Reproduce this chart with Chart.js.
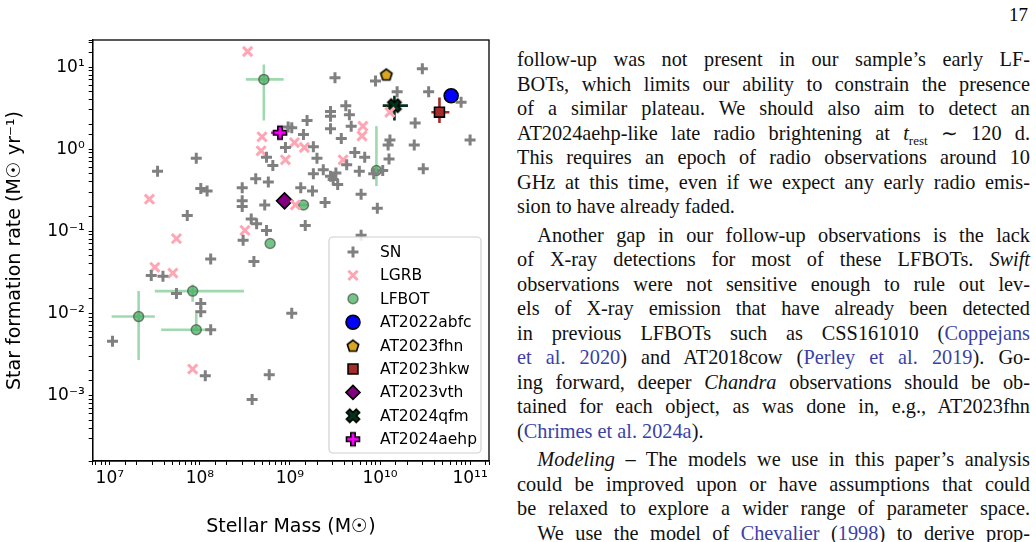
<!DOCTYPE html>
<html>
<head>
<meta charset="utf-8">
<script src="https://cdn.jsdelivr.net/npm/chart.js@4/dist/chart.umd.min.js"></script>
<style>
  body { margin: 0; background: #fff; width: 1036px; height: 542px; overflow: hidden; position: relative; }
  #wrap { position: absolute; left: 0; top: 0; width: 505px; height: 542px; }
  #page { position: absolute; left: 517px; top: 47px; width: 513px; font-family: "Liberation Serif", serif; font-size: 20.3px; color: #111; }
  #page div { height: 24.5px; line-height: 24.5px; white-space: nowrap; text-align: justify; text-align-last: justify; }
  #page div.last { text-align-last: left; }
  #page .gap { height: 4px; }
  #page a { color: #3b3fa8; text-decoration: none; }
  #pnum { position: absolute; right: 8px; top: 4px; font-family: "Liberation Serif", serif; font-size: 19px; }
</style>
</head>
<body>
<div id="wrap"><canvas id="grafico"></canvas></div>
<div id="pnum">17</div>
<div id="page">
  <div>follow-up was not present in our sample’s early LF-</div>
  <div>BOTs, which limits our ability to constrain the presence</div>
  <div>of a similar plateau. We should also aim to detect an</div>
  <div>AT2024aehp-like late radio brightening at <i>t</i><sub style="font-size:13px">rest</sub> ∼ 120 d.</div>
  <div>This requires an epoch of radio observations around 10</div>
  <div>GHz at this time, even if we expect any early radio emis-</div>
  <div class="last">sion to have already faded.</div>
  <div class="gap"></div>
  <div>&emsp;Another gap in our follow-up observations is the lack</div>
  <div>of X-ray detections for most of these LFBOTs. <i>Swift</i></div>
  <div>observations were not sensitive enough to rule out lev-</div>
  <div>els of X-ray emission that have already been detected</div>
  <div>in previous LFBOTs such as CSS161010 (<a>Coppejans</a></div>
  <div><a>et al. 2020</a>) and AT2018cow (<a>Perley et al. 2019</a>). Go-</div>
  <div>ing forward, deeper <i>Chandra</i> observations should be ob-</div>
  <div>tained for each object, as was done in, e.g., AT2023fhn</div>
  <div class="last">(<a>Chrimes et al. 2024a</a>).</div>
  <div class="gap"></div>
  <div>&emsp;<i>Modeling</i> – The models we use in this paper’s analysis</div>
  <div>could be improved upon or have assumptions that could</div>
  <div>be relaxed to explore a wider range of parameter space.</div>
  <div>&emsp;We use the model of <a>Chevalier</a> (<a>1998</a>) to derive prop-</div>
</div>
<script>
// log10 das massas (M_sun) e SFR (M_sun/yr)
const snLogMass = [7.96,7.53,8.01,8.08,7.86,8.47,8.62,8.76,8.74,8.81,8.95,8.47,8.47,8.72,8.57,8.63,8.74,8.48,8.98,
  9.50,9.95,10.47,10.19,10.54,10.90,9.62,9.45,9.45,9.66,9.19,9.02,9.45,9.68,10.39,9.15,9.57,10.11,10.09,10.38,11.00,
  9.26,9.30,9.72,9.83,10.10,9.63,9.26,9.37,9.45,9.51,9.53,9.48,9.77,9.93,10.03,10.48,9.12,9.25,9.39,9.79,9.97,9.17,9.79,
  8.12,8.60,7.46,7.59,7.74,8.01,8.01,8.12,9.02,7.03,8.06,8.77,8.58];
const snLogSfr = [-0.11,-0.27,-0.48,-0.51,-0.81,-0.47,-0.36,-0.40,-0.10,-0.20,0.02,-0.63,-0.70,-0.68,-0.85,-0.91,-0.99,-1.11,0.27,
  0.87,0.83,0.98,0.70,0.70,0.57,0.53,0.46,0.40,0.42,0.35,0.26,0.25,0.28,0.32,0.18,0.13,0.11,0.05,0.05,0.11,
  0.03,-0.11,-0.04,-0.10,-0.12,-0.19,-0.30,-0.25,-0.33,-0.29,-0.43,-0.37,-0.27,-0.30,-0.26,-0.24,-0.47,-0.51,-0.65,-0.55,-0.72,-0.93,-1.05,
  -1.34,-1.37,-1.54,-1.55,-1.76,-1.88,-1.98,-2.20,-2.00,-2.34,-2.76,-2.75,-3.05];

const lgrbLogMass = [8.53,8.69,8.68,8.95,7.44,8.50,7.74,9.81,9.80,9.05,9.16,9.59,10.11,9.06,7.50,7.70,7.92];
const lgrbLogSfr = [1.19,0.15,-0.02,-0.13,-0.61,-0.99,-1.09,0.28,0.16,0.08,0.02,-0.13,0.45,-0.68,-1.44,-1.51,-2.68];

// LFBOTs: valor, limites inferior/superior (log10)
const lfbotLogMass = [8.71,8.78,9.96,9.15,7.92,7.32,7.96];
const lfbotMassLo  = [8.51,8.78,9.96,9.10,7.50,7.02,7.57];
const lfbotMassHi  = [8.93,8.78,9.96,9.21,8.49,7.50,8.12];
const lfbotLogSfr  = [0.85,-1.15,-0.26,-0.68,-1.73,-2.04,-2.20];
const lfbotSfrLo   = [0.35,-1.15,-0.45,-0.68,-1.86,-2.57,-2.20];
const lfbotSfrHi   = [1.03,-1.15,0.28,-0.68,-1.65,-1.73,-2.00];

const nomesEspeciais = ['AT2022abfc','AT2023fhn','AT2023hkw','AT2023vth','AT2024qfm','AT2024aehp'];
const espLogMass = [10.79,10.07,10.66,8.94,10.16,8.89];
const espMassLo  = [10.79,10.07,10.57,8.94,10.03,8.79];
const espMassHi  = [10.79,10.07,10.77,8.94,10.31,8.95];
const espLogSfr  = [0.65,0.91,0.45,-0.63,0.53,0.20];
const espSfrLo   = [0.65,0.91,0.32,-0.63,0.35,0.20];
const espSfrHi   = [0.65,0.91,0.63,-0.63,0.65,0.20];
const espCores   = ['#0000ff','#daa520','#a52a2a','#800080','#00331a','#ff00ff'];

const p10 = v => Math.pow(10, v);
const pontos = (lx, ly) => lx.map((v, i) => ({ x: p10(v), y: p10(ly[i]) }));

// marcadores desenhados à mão (pentágono, P e X preenchidos)
function marcador(tam, desenha) {
  const c = document.createElement('canvas');
  c.width = tam; c.height = tam;
  const g = c.getContext('2d');
  g.translate(tam / 2, tam / 2);
  desenha(g);
  return c;
}
function poligono(g, pts, cor) {
  g.beginPath();
  pts.forEach((p, i) => i ? g.lineTo(p[0], p[1]) : g.moveTo(p[0], p[1]));
  g.closePath();
  g.fillStyle = cor; g.fill();
  g.lineWidth = 1.6; g.strokeStyle = '#000'; g.stroke();
}
const pentagono = marcador(16, g => {
  const pts = [];
  for (let k = 0; k < 5; k++) { const a = -Math.PI / 2 + k * 2 * Math.PI / 5; pts.push([6 * Math.cos(a), 6 * Math.sin(a) + 0.6]); }
  poligono(g, pts, '#daa520');
});
function cruzPts(r, w) {
  return [[-w,-r],[w,-r],[w,-w],[r,-w],[r,w],[w,w],[w,r],[-w,r],[-w,w],[-r,w],[-r,-w],[-w,-w]];
}
const plusP = marcador(18, g => poligono(g, cruzPts(6.5, 2.2), '#ff00ff'));
const xisX = marcador(18, g => { g.rotate(Math.PI / 4); poligono(g, cruzPts(7, 2.4), '#00331a'); });
const estilosEsp = ['circle', pentagono, 'rect', 'rectRot', xisX, plusP];
const raiosEsp = [7, 7, 7, 8, 8, 8];

const datasets = [
  { label: 'SN', data: pontos(snLogMass, snLogSfr), pointStyle: 'cross', pointRadius: 5.5,
    borderColor: '#808080', backgroundColor: '#808080', pointBorderWidth: 3 },
  { label: 'LGRB', data: pontos(lgrbLogMass, lgrbLogSfr), pointStyle: 'crossRot', pointRadius: 6.5,
    borderColor: '#ffa6b4', backgroundColor: '#ffa6b4', pointBorderWidth: 3 },
  { label: 'LFBOT', data: pontos(lfbotLogMass, lfbotLogSfr), pointStyle: 'circle', pointRadius: 5,
    borderColor: 'rgba(60,60,60,0.6)', backgroundColor: 'rgba(70,175,95,0.75)', pointBorderWidth: 1.5,
    erro: { xlo: lfbotMassLo, xhi: lfbotMassHi, ylo: lfbotSfrLo, yhi: lfbotSfrHi, cor: 'rgba(80,185,110,0.55)', lx: lfbotLogMass, ly: lfbotLogSfr } }
];
nomesEspeciais.forEach((nome, i) => {
  datasets.push({
    label: nome, data: [{ x: p10(espLogMass[i]), y: p10(espLogSfr[i]) }],
    pointStyle: estilosEsp[i], pointRadius: raiosEsp[i], backgroundColor: espCores[i],
    borderColor: '#000', pointBorderWidth: 1.6,
    erro: { xlo: [espMassLo[i]], xhi: [espMassHi[i]], ylo: [espSfrLo[i]], yhi: [espSfrHi[i]], cor: espCores[i], lx: [espLogMass[i]], ly: [espLogSfr[i]] }
  });
});

const sup = { '0':'⁰','1':'¹','2':'²','3':'³','4':'⁴','5':'⁵','6':'⁶','7':'⁷','8':'⁸','9':'⁹','-':'⁻' };
function rotuloLog(v) {
  const e = Math.log10(v);
  if (Math.abs(e - Math.round(e)) > 1e-6) return '';
  return '10' + String(Math.round(e)).split('').map(c => sup[c]).join('');
}

const barrasErro = {
  id: 'barrasErro',
  beforeDatasetsDraw(chart) {
    const { ctx, scales: { x, y } } = chart;
    ctx.save();
    chart.data.datasets.forEach(ds => {
      const e = ds.erro;
      if (!e) return;
      ctx.strokeStyle = e.cor; ctx.lineWidth = 2.6;
      e.lx.forEach((m, i) => {
        const px = x.getPixelForValue(p10(m)), py = y.getPixelForValue(p10(e.ly[i]));
        ctx.beginPath();
        if (e.xhi[i] > e.xlo[i]) { ctx.moveTo(x.getPixelForValue(p10(e.xlo[i])), py); ctx.lineTo(x.getPixelForValue(p10(e.xhi[i])), py); }
        if (e.yhi[i] > e.ylo[i]) { ctx.moveTo(px, y.getPixelForValue(p10(e.ylo[i]))); ctx.lineTo(px, y.getPixelForValue(p10(e.yhi[i]))); }
        ctx.stroke();
      });
    });
    ctx.restore();
  },
  afterDraw(chart) {
    const { ctx, chartArea: a } = chart;
    ctx.save();
    ctx.strokeStyle = '#000'; ctx.lineWidth = 1.3;
    ctx.strokeRect(a.left, a.top, a.right - a.left, a.bottom - a.top);
    // legenda dentro da área
    const bx = 329, by = 237, bw = 152, bh = 216;
    ctx.fillStyle = 'rgba(255,255,255,0.85)'; ctx.strokeStyle = '#d0d0d0'; ctx.lineWidth = 1.2;
    ctx.beginPath(); ctx.roundRect(bx, by, bw, bh, 4); ctx.fill(); ctx.stroke();
    ctx.font = '15.5px "DejaVu Sans"'; ctx.textBaseline = 'middle';
    chart.data.datasets.forEach((ds, i) => {
      const yy = by + 15 + i * 23.4;
      ctx.fillStyle = ds.backgroundColor; ctx.strokeStyle = ds.borderColor;
      ctx.lineWidth = ds.pointBorderWidth;
      Chart.helpers.drawPoint(ctx, { pointStyle: ds.pointStyle, radius: Math.min(ds.pointRadius, 7), rotation: 0, borderWidth: ds.pointBorderWidth }, bx + 24, yy);
      ctx.fillStyle = '#000';
      ctx.fillText(ds.label, bx + 51, yy + 1);
    });
    ctx.restore();
  }
};

document.addEventListener('DOMContentLoaded', () => {
  Chart.defaults.font.family = '"DejaVu Sans", sans-serif';
  Chart.defaults.color = '#000';
  new Chart(document.getElementById('grafico'), {
    type: 'scatter',
    data: { datasets },
    options: {
      responsive: true, maintainAspectRatio: false, animation: false,
      layout: { padding: { top: 40, right: 16, left: 0, bottom: 0 } },
      plugins: { legend: { display: false }, tooltip: { enabled: false } },
      scales: {
        x: {
          type: 'logarithmic', min: p10(6.81), max: p10(11.21),
          grid: { drawOnChartArea: false, color: '#000', tickLength: 4 },
          border: { color: '#000', width: 1.3 },
          ticks: { autoSkip: false, maxRotation: 0, callback: rotuloLog, font: { size: 17 }, padding: 3 },
          title: { display: true, text: 'Stellar Mass (M☉)', font: { size: 19 }, padding: { top: 0 } },
          afterFit: s => { s.height = 81; }
        },
        y: {
          type: 'logarithmic', min: p10(-3.8), max: p10(1.33),
          grid: { drawOnChartArea: false, color: '#000', tickLength: 4 },
          border: { color: '#000', width: 1.3 },
          ticks: { autoSkip: false, callback: rotuloLog, font: { size: 17 }, padding: 4 },
          title: { display: true, text: 'Star formation rate (M☉ yr⁻¹)', font: { size: 19 }, padding: { bottom: 4 } },
          afterFit: s => { s.width = 92.7; }
        }
      }
    },
    plugins: [barrasErro]
  });
});
</script>
</body>
</html>
